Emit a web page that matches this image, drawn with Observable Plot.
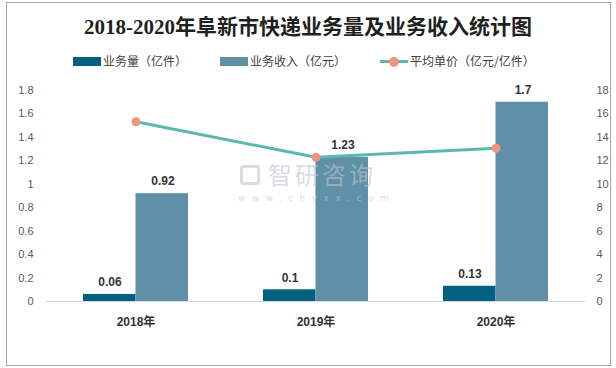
<!DOCTYPE html>
<html><head><meta charset="utf-8">
<script src="https://cdn.jsdelivr.net/npm/d3@7"></script>
<script src="https://cdn.jsdelivr.net/npm/@observablehq/plot@0.6"></script>
<style>
body{margin:0;background:#fff;}
#wrap{position:relative;width:616px;height:368px;overflow:hidden;font-family:"Noto Sans CJK SC","Noto Sans",sans-serif;}
#frame{position:absolute;left:6px;top:2px;width:605px;height:364px;border:1px solid #a6a6a6;box-sizing:border-box;}
#title{position:absolute;left:0;width:616px;top:12px;text-align:center;font-family:"Liberation Serif","Noto Sans CJK SC",serif;font-weight:bold;font-size:21px;line-height:30px;color:#1f1f1f;white-space:nowrap;}
.lg{position:absolute;top:52px;height:18px;line-height:18px;font-size:12px;color:#404040;white-space:nowrap;}
.sw{position:absolute;}
#chart{position:absolute;left:0;top:70px;}
#wm1{position:absolute;left:268px;top:162px;font-size:24px;line-height:24px;color:rgba(190,196,208,0.6);letter-spacing:3px;white-space:nowrap;}
#wm2{position:absolute;left:238px;top:194px;font-size:9px;line-height:9px;color:rgba(190,196,208,0.6);letter-spacing:6.5px;white-space:nowrap;font-family:"DejaVu Sans",sans-serif;}
#wmicon{position:absolute;left:240px;top:165px;width:20px;height:20px;border:3px solid rgba(190,196,208,0.6);border-radius:3px;box-sizing:border-box;}
</style></head>
<body>
<div id="wrap">
  <div id="frame"></div>
  <div id="title"></div>
  <div id="legend"></div>
  <div id="chart"></div>
  <div id="wmicon"></div>
  <div id="wm1">智研咨询</div>
  <div id="wm2">www.chyxx.com</div>
</div>
<script>
const titleText = "2018-2020年阜新市快递业务量及业务收入统计图";
const years = ["2018年", "2019年", "2020年"];
const volume = [0.06, 0.1, 0.13];      // 业务量（亿件）
const revenue = [0.92, 1.23, 1.7];     // 业务收入（亿元）
const price = [15.33, 12.3, 13.08];    // 平均单价（亿元/亿件）
const leftTicks = [0, 0.2, 0.4, 0.6, 0.8, 1, 1.2, 1.4, 1.6, 1.8];
const rightTicks = [0, 2, 4, 6, 8, 10, 12, 14, 16, 18];
const seriesNames = ["业务量（亿件）", "业务收入（亿元）", "平均单价（亿元/亿件）"];
const colors = ["#01617f", "#6090a7", "#5bb8b0"];
const markerColor = "#ef957f";

document.getElementById("title").textContent = titleText;

// legend
const legend = document.getElementById("legend");
const legendPos = [73, 220, 380];
seriesNames.forEach((name, i) => {
  const x = legendPos[i];
  if (i < 2) {
    const sw = document.createElement("div");
    sw.className = "sw";
    Object.assign(sw.style, {left: x + "px", top: "57px", width: "28px", height: "9px", background: colors[i]});
    legend.appendChild(sw);
  } else {
    const ln = document.createElement("div");
    ln.className = "sw";
    Object.assign(ln.style, {left: x + "px", top: "60px", width: "28px", height: "3px", background: colors[2]});
    legend.appendChild(ln);
    const dt = document.createElement("div");
    dt.className = "sw";
    Object.assign(dt.style, {left: (x + 9) + "px", top: "57px", width: "10px", height: "10px", borderRadius: "50%", background: markerColor});
    legend.appendChild(dt);
  }
  const t = document.createElement("div");
  t.className = "lg";
  t.style.left = (x + 30) + "px";
  t.textContent = name;
  legend.appendChild(t);
});

const rows = years.map((y, i) => ({year: y, volume: volume[i], revenue: revenue[i], price: price[i]}));
const ratio = rightTicks[rightTicks.length - 1] / leftTicks[leftTicks.length - 1];
const pad = 0.417;
const half = 52.5;

const chart = Plot.plot({
  width: 616,
  height: 290,
  marginTop: 20,
  marginBottom: 59,
  marginLeft: 45,
  marginRight: 31,
  style: {fontFamily: "'Liberation Sans','Noto Sans CJK SC',sans-serif", fontSize: "11px", background: "transparent", color: "#595959", overflow: "visible"},
  x: {domain: years, paddingInner: pad, paddingOuter: pad / 2, axis: null},
  y: {domain: [0, leftTicks[leftTicks.length - 1]], axis: null},
  marks: [
    Plot.ruleY([0], {stroke: "#d9d9d9", strokeWidth: 1.2}),
    Plot.barY(rows, {x: "year", y: "volume", fill: colors[0], insetRight: half}),
    Plot.barY(rows, {x: "year", y: "revenue", fill: colors[1], insetLeft: half}),
    Plot.line(rows, {x: "year", y: d => d.price / ratio, stroke: colors[2], strokeWidth: 3}),
    Plot.dot(rows, {x: "year", y: d => d.price / ratio, r: 4.5, fill: markerColor, stroke: null}),
    Plot.text(rows, {x: "year", y: "volume", text: d => String(d.volume), dx: -26, dy: -12, fontWeight: "bold", fontSize: 12, fill: "#333"}),
    Plot.text(rows, {x: "year", y: "revenue", text: d => String(d.revenue), dx: 27, dy: -12, fontWeight: "bold", fontSize: 12, fill: "#333"}),
    Plot.axisY(leftTicks, {anchor: "left", tickSize: 0, tickPadding: 12, tickFormat: d => String(d), fill: "#595959", fontSize: 11, label: null}),
    Plot.axisY(leftTicks, {anchor: "right", tickSize: 0, tickPadding: 11, tickFormat: d => String(Math.round(d * ratio)), fill: "#595959", fontSize: 11, label: null}),
    Plot.axisX({anchor: "bottom", tickSize: 0, tickPadding: 16, fontWeight: "bold", fontSize: 12, fill: "#333", label: null})
  ]
});
document.getElementById("chart").appendChild(chart);
</script>
</body></html>
